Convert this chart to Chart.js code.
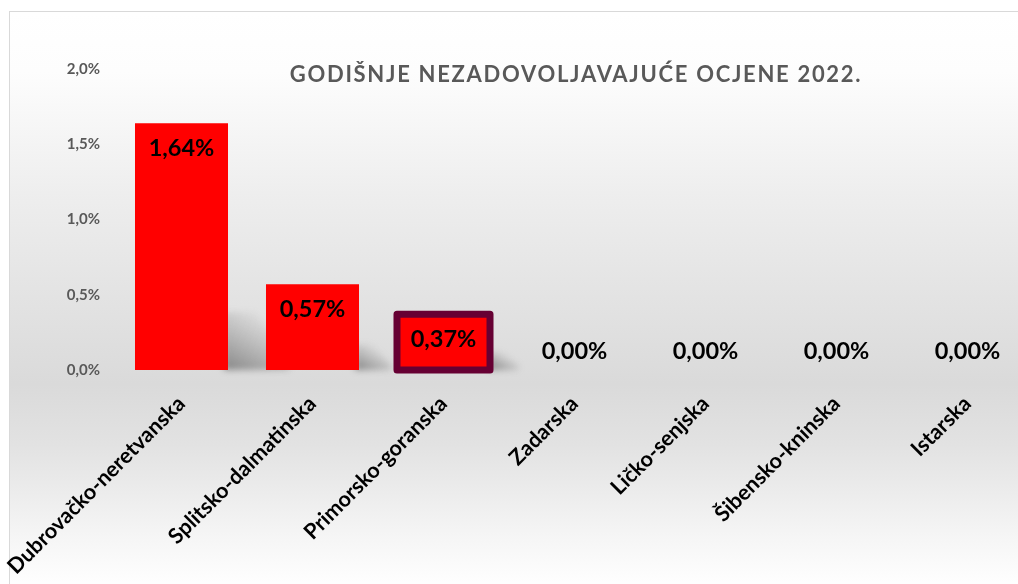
<!DOCTYPE html>
<html>
<head>
<meta charset="utf-8">
<script src="https://cdn.jsdelivr.net/npm/chart.js@4.4.1/dist/chart.umd.min.js"></script>
<style>
  html, body { margin: 0; padding: 0; width: 1018px; height: 584px; overflow: hidden; background: #ffffff; }
  #frame {
    position: absolute; left: 9px; top: 11px; width: 1020px; height: 600px;
    border-left: 1px solid #d9d9d9; border-top: 1px solid #d9d9d9;
    background: linear-gradient(to bottom, #ffffff 0%, #fdfdfd 10%, #eeeeee 30%, #dadada 62%, #e2e2e2 72%, #f6f6f6 88%, #ffffff 96%);
  }
  #wrap { position: absolute; left: 0; top: 0; width: 1050px; height: 584px; }
  #title {
    position: absolute; left: 0; width: 1152px; top: 60px; text-align: center;
    font-family: Lato, "Open Sans", sans-serif; font-weight: bold; font-size: 22px;
    color: #595959; letter-spacing: 1.7px; white-space: nowrap;
  }
</style>
</head>
<body>
<div id="frame"></div>
<div id="wrap"><canvas id="c" width="1050" height="584"></canvas></div>
<div id="title">GODIŠNJE NEZADOVOLJAVAJUĆE OCJENE 2022.</div>
<script>
const categories = ["Dubrovačko-neretvanska", "Splitsko-dalmatinska", "Primorsko-goranska", "Zadarska", "Ličko-senjska", "Šibensko-kninska", "Istarska"];
const values = [1.64, 0.57, 0.37, 0, 0, 0, 0];
const yTicks = [0, 0.5, 1.0, 1.5, 2.0];
const highlighted = [false, false, true, false, false, false, false];

const fmtTick = v => v.toFixed(1).replace('.', ',') + '%';
const fmtLabel = v => v.toFixed(2).replace('.', ',') + '%';

const shadowPlugin = {
  id: 'barShadow',
  beforeDatasetsDraw(chart) {
    const ctx = chart.ctx;
    const meta = chart.getDatasetMeta(0);
    ctx.save();
    meta.data.forEach((el, i) => {
      const h = el.base - el.y;
      if (h <= 0) return;
      const right = el.x + el.width / 2 + (highlighted[i] ? 3 : 0);
      const sh = Math.min(58, h * 0.24 + 5);
      const grad = ctx.createLinearGradient(right, el.base, right + sh * 0.6, el.base - sh);
      grad.addColorStop(0, 'rgba(80,80,80,0.6)');
      grad.addColorStop(1, 'rgba(120,120,120,0)');
      ctx.filter = 'blur(3px)';
      ctx.fillStyle = grad;
      ctx.beginPath();
      ctx.moveTo(right - 4, el.base);
      ctx.lineTo(right - 4, el.base - sh);
      ctx.lineTo(right + sh * 0.5, el.base - sh);
      ctx.lineTo(right + sh * 0.9 + 10, el.base - 4);
      ctx.lineTo(right + sh * 0.9 + 8, el.base);
      ctx.closePath();
      ctx.fill();
    });
    ctx.restore();
  }
};

const borderPlugin = {
  id: 'highlightBorder',
  afterDatasetsDraw(chart) {
    const ctx = chart.ctx;
    const meta = chart.getDatasetMeta(0);
    ctx.save();
    meta.data.forEach((el, i) => {
      if (!highlighted[i]) return;
      const l = el.x - el.width / 2, r = el.x + el.width / 2;
      ctx.strokeStyle = '#660033';
      ctx.lineWidth = 7;
      ctx.lineJoin = 'round';
      ctx.strokeRect(l, el.y, r - l, el.base - el.y);
    });
    ctx.restore();
  }
};

const labelPlugin = {
  id: 'valueLabels',
  afterDatasetsDraw(chart) {
    const ctx = chart.ctx;
    const meta = chart.getDatasetMeta(0);
    ctx.save();
    ctx.font = 'bold 23.5px Lato, "Open Sans", sans-serif';
    ctx.fillStyle = '#000000';
    ctx.textAlign = 'center';
    ctx.textBaseline = 'middle';
    meta.data.forEach((el, i) => {
      const v = values[i];
      const y = v > 0 ? el.y + 25 : el.base - 19;
      ctx.fillText(fmtLabel(v), el.x, y);
    });
    ctx.restore();
  }
};

new Chart(document.getElementById('c'), {
  type: 'bar',
  data: {
    labels: categories,
    datasets: [{
      data: values,
      backgroundColor: '#ff0000',
      borderWidth: 0,
      barPercentage: 0.71,
      categoryPercentage: 1.0
    }]
  },
  options: {
    responsive: false,
    animation: false,
    events: [],
    layout: { padding: { left: 0, right: 17, top: 69, bottom: 0 } },
    plugins: { legend: { display: false }, tooltip: { enabled: false }, title: { display: false } },
    scales: {
      x: {
        grid: { display: false, drawTicks: false },
        border: { display: false },
        ticks: {
          autoSkip: false, maxRotation: 45, minRotation: 45, padding: 21, labelOffset: 0,
          color: '#000000',
          font: { family: 'Lato, "Open Sans", sans-serif', weight: 'bold', size: 21.5 }
        },
        afterFit(scale) { scale.height = 214; scale.paddingLeft = 0; scale.paddingRight = 0; }
      },
      y: {
        min: 0, max: 2,
        grid: { display: false, drawTicks: false },
        border: { display: false },
        afterBuildTicks(scale) { scale.ticks = yTicks.map(v => ({ value: v })); },
        ticks: {
          padding: 16,
          color: '#595959',
          font: { family: 'Lato, "Open Sans", sans-serif', weight: 'bold', size: 15 },
          callback: v => fmtTick(v)
        },
        afterFit(scale) { scale.width = 116; }
      }
    }
  },
  plugins: [shadowPlugin, borderPlugin, labelPlugin]
});
</script>
</body>
</html>
